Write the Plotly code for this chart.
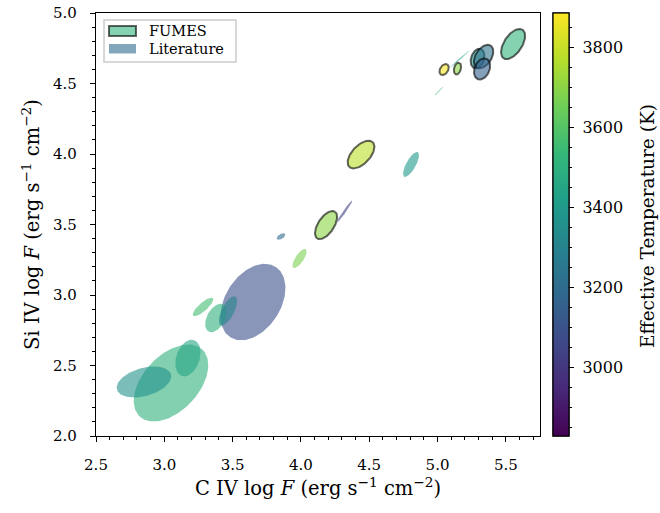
import numpy as np
import plotly.graph_objects as go
from plotly.colors import sample_colorscale

# ---------------- data ----------------
# Literature ellipses: centre (C IV, Si IV), full widths, angle (deg), Teff
lit_civ   = [3.854, 3.049, 2.851, 3.173, 3.649, 3.378, 3.466, 3.283, 3.990, 4.319, 4.806, 5.165, 5.011]
lit_siiv  = [3.415, 2.376, 2.383, 2.553, 2.950, 2.837, 2.887, 2.915, 3.259, 3.592, 3.926, 4.676, 4.447]
lit_w     = [0.07, 0.66, 0.41, 0.27, 0.60, 0.22, 0.23, 0.19, 0.16, 0.19, 0.20, 0.19, 0.09]
lit_h     = [0.035, 0.40, 0.20, 0.17, 0.40, 0.13, 0.09, 0.06, 0.06, 0.02, 0.07, 0.01, 0.008]
lit_ang   = [30, 45, 15, 70, 55, 60, 62, 40, 55, 54, 60, 40, 45]
lit_teff  = [3200, 3505, 3360, 3450, 3090, 3500, 3300, 3560, 3670, 3040, 3400, 3450, 3550]

# FUMES ellipses
fum_civ   = [5.553, 4.184, 4.440, 5.048, 5.146, 5.293, 5.337, 5.326]
fum_siiv  = [4.780, 3.496, 3.996, 4.599, 4.606, 4.677, 4.691, 4.603]
fum_w     = [0.245, 0.23, 0.245, 0.086, 0.086, 0.144, 0.187, 0.158]
fum_h     = [0.13, 0.115, 0.13, 0.058, 0.05, 0.094, 0.115, 0.108]
fum_ang   = [55, 55, 45, 55, 75, 70, 55, 65]
fum_teff  = [3520, 3700, 3780, 3880, 3700, 3370, 3220, 3150]

teff_min, teff_max = 2828, 3885
cbar_ticks = [3000, 3200, 3400, 3600, 3800]
cbar_minor = list(range(2850, 3900, 50))
legend_labels = ["FUMES", "Literature"]
cbar_title = "Effective Temperature (K)"

FONT = "DejaVu Serif"

# plot-area geometry (px) used for the hand-made legend box
L, R, T, B = 96, 540, 13, 436
W, H = R - L, B - T


def px(x):
    return (x - L) / W


def py(y):
    return (B - y) / H


def ellipse(cx, cy, w, h, ang):
    t = np.linspace(0, 2 * np.pi, 120)
    a, b = w / 2, h / 2
    th = np.deg2rad(ang)
    x = cx + a * np.cos(th) * np.cos(t) - b * np.sin(th) * np.sin(t)
    y = cy + a * np.sin(th) * np.cos(t) + b * np.cos(th) * np.sin(t)
    return x, y


def rgba(teff, alpha=0.6):
    f = (teff - teff_min) / (teff_max - teff_min)
    c = sample_colorscale("Viridis", [min(max(f, 0), 1)], colortype="tuple")[0]
    r, g, b = [int(round(v * 255)) if v <= 1 else int(round(v)) for v in c]
    return f"rgba({r},{g},{b},{alpha})"


EDGE = "rgba(0,0,0,0.6)"

fig = go.Figure()

for i in range(len(lit_civ)):
    x, y = ellipse(lit_civ[i], lit_siiv[i], lit_w[i], lit_h[i], lit_ang[i])
    fig.add_trace(go.Scatter(
        x=x, y=y, mode="lines", fill="toself",
        fillcolor=rgba(lit_teff[i]), line=dict(width=0, color=rgba(lit_teff[i])),
        name="Literature", showlegend=False, hoverinfo="skip"))

for i in range(len(fum_civ)):
    x, y = ellipse(fum_civ[i], fum_siiv[i], fum_w[i], fum_h[i], fum_ang[i])
    fig.add_trace(go.Scatter(
        x=x, y=y, mode="lines", fill="toself",
        fillcolor=rgba(fum_teff[i]), line=dict(width=2, color=EDGE),
        name="FUMES", showlegend=False, hoverinfo="skip"))

cb_common = dict(x=px(553), xanchor="left", y=0.5, yanchor="middle",
                 len=1.0, lenmode="fraction", thickness=16, xpad=0, ypad=0,
                 outlinewidth=1.2, outlinecolor="black",
                 ticks="outside", tickwidth=1, tickcolor="black")

# minor-tick colorbar (underneath)
fig.add_trace(go.Scatter(
    x=[None], y=[None], mode="markers", showlegend=False, hoverinfo="skip",
    marker=dict(color=[teff_min], colorscale="Viridis", cmin=teff_min, cmax=teff_max,
                showscale=True,
                colorbar=dict(tickvals=cbar_minor, ticktext=[""] * len(cbar_minor),
                              ticklen=3, **cb_common))))

# main colorbar
fig.add_trace(go.Scatter(
    x=[None], y=[None], mode="markers", showlegend=False, hoverinfo="skip",
    marker=dict(color=[teff_min], colorscale="Viridis", cmin=teff_min, cmax=teff_max,
                showscale=True,
                colorbar=dict(
                    tickvals=cbar_ticks, ticktext=[f" {v}" for v in cbar_ticks],
                    ticklen=5,
                    tickfont=dict(family=FONT, size=16, color="black"),
                    **cb_common))))

axis_common = dict(
    showgrid=False, zeroline=False, showline=True, linecolor="black", linewidth=1.2,
    mirror=True, ticks="outside", ticklen=5, tickwidth=1.2, tickcolor="black",
    tickformat=".1f", tickfont=dict(family=FONT, size=15, color="black"),
    automargin=False,
)

# hand-made legend (box, patches, labels)
shapes = [
    dict(type="rect", xref="paper", yref="paper",
         x0=px(104), x1=px(236), y0=py(62), y1=py(20),
         line=dict(color="#cccccc", width=1.5), fillcolor="rgba(255,255,255,0.8)"),
    dict(type="rect", xref="paper", yref="paper",
         x0=px(109), x1=px(136), y0=py(36), y1=py(26),
         line=dict(color=EDGE, width=2), fillcolor=rgba(fum_teff[0])),
    dict(type="rect", xref="paper", yref="paper",
         x0=px(109), x1=px(136), y0=py(53.5), y1=py(44),
         line=dict(width=0), fillcolor=rgba(lit_teff[0])),
]
annotations = [
    dict(text=legend_labels[0], xref="paper", yref="paper", x=px(147), y=py(31),
         xanchor="left", yanchor="middle", showarrow=False,
         font=dict(family=FONT, size=14.5, color="black")),
    dict(text=legend_labels[1], xref="paper", yref="paper", x=px(147), y=py(49),
         xanchor="left", yanchor="middle", showarrow=False,
         font=dict(family=FONT, size=14.5, color="black")),
    dict(text=cbar_title, xref="paper", yref="paper", x=px(648), y=py(226),
         xanchor="center", yanchor="middle", textangle=-90, showarrow=False,
         font=dict(family=FONT, size=18.5, color="black")),
]

fig.update_layout(
    width=660, height=513,
    margin=dict(l=L, r=660 - R, t=T, b=513 - B),
    plot_bgcolor="white", paper_bgcolor="white",
    font=dict(family=FONT, color="black"),
    showlegend=False,
    xaxis=dict(range=[2.5, 5.75], dtick=0.5, tick0=2.5, ticklabelstandoff=10,
               minor=dict(dtick=0.1, ticks="outside", ticklen=3, tickcolor="black"),
               title=dict(text="C IV log <i>F</i> (erg s<sup>−1</sup> cm<sup>−2</sup>)",
                          font=dict(family=FONT, size=19.5), standoff=8),
               **axis_common),
    yaxis=dict(range=[2.0, 5.0], dtick=0.5, tick0=2.0, ticklabelstandoff=10,
               minor=dict(dtick=0.1, ticks="outside", ticklen=3, tickcolor="black"),
               title=dict(text="Si IV log <i>F</i> (erg s<sup>−1</sup> cm<sup>−2</sup>)",
                          font=dict(family=FONT, size=19.5), standoff=8),
               **axis_common),
    shapes=shapes,
    annotations=annotations,
)

fig.write_html("out.html")
